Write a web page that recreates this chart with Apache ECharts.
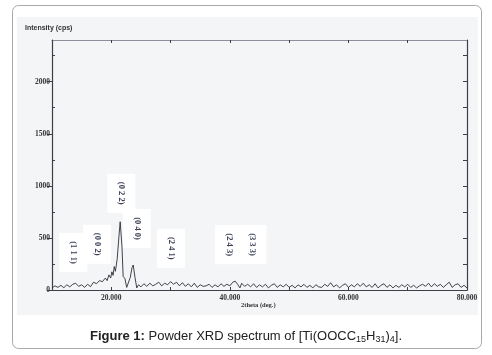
<!DOCTYPE html>
<html>
<head>
<meta charset="utf-8">
<script src="https://cdn.jsdelivr.net/npm/echarts@6/dist/echarts.min.js"></script>
<style>
  html, body { margin: 0; padding: 0; background: #fff; }
  #xrdChart { width: 492px; height: 355px; }
</style>
</head>
<body>
<div id="xrdChart"></div>
<script>
// 2theta (deg.) and intensity (cps)
var twoTheta = [
  10.0, 10.5, 11.0, 11.5, 12.0, 12.5, 13.0, 13.5, 14.0, 14.5, 15.0, 15.5, 16.0, 16.5, 17.0, 17.5,
  18.0, 18.5, 19.0, 19.3, 19.6, 19.9, 20.1, 20.3, 20.5, 20.7, 21.0, 21.3, 21.5, 21.8, 22.0, 22.3,
  22.6, 22.9, 23.2, 23.5, 23.7, 24.0, 24.3, 24.6, 25.0, 25.5, 26.0, 26.5, 27.0, 27.5, 28.0, 28.5,
  29.0, 29.5, 30.0, 30.5, 31.0, 31.5, 32.0, 32.5, 33.0, 33.5, 34.0, 34.5, 35.0, 35.5, 36.0, 36.5,
  37.0, 37.5, 38.0, 38.5, 39.0, 39.5, 40.0, 40.5, 40.9, 41.3, 41.7, 42.0, 42.5, 43.0, 43.5, 44.0,
  44.5, 45.0, 45.5, 46.0, 46.5, 47.0, 47.5, 48.0, 48.5, 49.0, 49.5, 50.0, 50.5, 51.0, 51.5, 52.0,
  52.5, 53.0, 53.5, 54.0, 54.5, 55.0, 55.5, 56.0, 56.5, 57.0, 57.5, 58.0, 58.5, 59.0, 59.5, 60.0,
  60.5, 61.0, 61.5, 62.0, 62.5, 63.0, 63.5, 64.0, 64.5, 65.0, 65.5, 66.0, 66.5, 67.0, 67.5, 68.0,
  68.5, 69.0, 69.5, 70.0, 70.5, 71.0, 71.5, 72.0, 72.5, 73.0, 73.5, 74.0, 74.5, 75.0, 75.5, 76.0,
  76.5, 77.0, 77.5, 78.0, 78.5, 79.0, 79.5, 80.0
];
var intensity = [
  20, 40, 25, 45, 22, 50, 30, 55, 65, 35, 50, 25, 55, 32, 75, 60,
  90, 80, 115, 90, 145, 115, 175, 140, 225, 180, 300, 520, 655, 420, 130, 110,
  25, 40, 120, 215, 240, 120, 20, 50, 30, 60, 35, 65, 40, 55, 75, 40,
  65, 50, 80, 55, 75, 40, 70, 35, 60, 30, 65, 25, 50, 35, 40, 55,
  25, 50, 30, 60, 35, 55, 40, 75, 85, 55, 20, 65, 35, 55, 30, 60,
  25, 50, 30, 55, 20, 45, 60, 25, 50, 30, 55, 25, 45, 20, 50, 30,
  55, 25, 45, 20, 50, 30, 25, 55, 35, 70, 30, 50, 20, 45, 60, 25,
  50, 30, 60, 35, 65, 30, 50, 25, 60, 20, 45, 60, 25, 50, 20, 45,
  25, 50, 30, 55, 25, 45, 20, 40, 55, 35, 65, 30, 60, 35, 55, 25,
  50, 75, 25, 50, 60, 25, 45, 20
];

// Miller index labels and where their boxes sit (2theta, intensity)
var hklLabels = ['(1 1 1)', '(0 0 2)', '(0 2 2)', '(0 4 0)', '(2 4 1)', '(2 4 3)', '(3 3 3)'];
var hklX = [13.6, 17.6, 21.7, 24.3, 30.1, 39.85, 43.8];
var hklY = [360, 440, 930, 590, 400, 435, 437];

var yTicks = [0, 500, 1000, 1500, 2000];
var yMinorTicks = [250, 750, 1250, 1750, 2250];
var xLabelValues = [20, 40, 60, 80];

var points = twoTheta.map(function (t, i) { return [t, intensity[i]]; });
var boxes = hklLabels.map(function (s, i) { return [hklX[i], hklY[i], s]; });

var serif = '"Liberation Serif", "DejaVu Serif", serif';
var axisColor = '#3a3f4a';

var myChart = echarts.init(document.getElementById('xrdChart'));
myChart.setOption({
    backgroundColor: '#fff',
    animation: false,
    graphic: [
        { type: 'rect', z: -10, shape: { x: 12.5, y: 5.5, width: 469, height: 343, r: 6 },
          style: { fill: '#fff', stroke: '#a9a9a9', lineWidth: 1 } },
        { type: 'rect', z: -9, shape: { x: 17, y: 17, width: 461, height: 298 },
          style: { fill: '#f4f5f7' } },
        { type: 'text', left: 25, top: 25,
          style: { text: 'Intensity (cps)', font: 'bold 7px "Liberation Sans", Arial, sans-serif', fill: '#333' } },
        { type: 'text', left: 241, top: 302,
          style: { text: '2theta (deg.)', font: 'bold 6.5px ' + serif, fill: '#333' } }
    ],
    title: {
        left: 'center',
        top: 323,
        text: '{b|Figure 1:} Powder XRD spectrum of [Ti(OOCC{s|15}H{s|31}){s|4}].',
        textStyle: {
            fontFamily: '"Liberation Sans", Arial, sans-serif',
            fontSize: 13,
            fontWeight: 'normal',
            color: '#222',
            lineHeight: 16,
            rich: {
                b: { fontWeight: 'bold', fontSize: 13, fontFamily: '"Liberation Sans", Arial, sans-serif', color: '#222' },
                s: { fontSize: 9, lineHeight: 9, verticalAlign: 'bottom', fontFamily: '"Liberation Sans", Arial, sans-serif', color: '#222' }
            }
        }
    },
    grid: { left: 52, right: 25, top: 40, bottom: 65 },
    xAxis: [
        {
            type: 'value', position: 'bottom', min: 10, max: 80, interval: 10,
            axisLine: { onZero: false, lineStyle: { color: axisColor, width: 1.2 } },
            axisTick: { inside: true, length: 3, lineStyle: { color: axisColor } },
            splitLine: { show: false },
            axisLabel: {
                margin: 4,
                fontFamily: serif, fontSize: 7.5, fontWeight: 'bold', color: '#333',
                customValues: xLabelValues,
                formatter: function (v) { return v.toFixed(3); }
            }
        },
        {
            type: 'value', position: 'top', min: 10, max: 80, interval: 10,
            axisLine: { show: true, onZero: false, lineStyle: { color: '#8a8f99', width: 1.2 } },
            axisTick: { show: true, inside: true, length: 3, lineStyle: { color: axisColor } },
            axisLabel: { show: false },
            splitLine: { show: false }
        }
    ],
    yAxis: [
        {
            type: 'value', position: 'left', min: 0, max: 2400, interval: 500,
            axisLine: { show: true, onZero: false, lineStyle: { color: axisColor, width: 1.2 } },
            axisTick: { show: true, length: 5, customValues: yTicks, lineStyle: { color: axisColor } },
            splitLine: { show: false },
            axisLabel: {
                margin: 2, customValues: yTicks,
                fontFamily: serif, fontSize: 7.5, fontWeight: 'bold', color: '#333',
                formatter: function (v) { return String(v); }
            }
        },
        {
            type: 'value', position: 'left', min: 0, max: 2400, interval: 250,
            axisLine: { show: false },
            axisTick: { show: true, inside: true, length: 3, customValues: yMinorTicks, lineStyle: { color: axisColor } },
            axisLabel: { show: false },
            splitLine: { show: false }
        },
        {
            type: 'value', position: 'right', min: 0, max: 2400, interval: 250,
            axisLine: { show: true, onZero: false, lineStyle: { color: axisColor, width: 1.2 } },
            axisTick: { show: true, inside: true, length: 4, customValues: yTicks.concat(yMinorTicks), lineStyle: { color: axisColor } },
            axisLabel: { show: false },
            splitLine: { show: false }
        }
    ],
    series: [
        {
            name: 'XRD',
            type: 'line',
            data: points,
            showSymbol: false,
            lineStyle: { color: '#2d2f36', width: 0.9 },
            z: 3
        },
        {
            name: 'hkl',
            type: 'custom',
            z: 2,
            data: boxes,
            renderItem: function (params, api) {
                var c = api.coord([api.value(0), api.value(1)]);
                var w = 28, h = 39;
                return {
                    type: 'group',
                    children: [
                        { type: 'rect', shape: { x: c[0] - w / 2, y: c[1] - h / 2, width: w, height: h },
                          style: { fill: '#fff' } },
                        { type: 'text', x: c[0], y: c[1], rotation: -Math.PI / 2,
                          style: { text: api.value(2), align: 'center', verticalAlign: 'middle',
                                   font: 'bold 8.5px ' + serif, fill: '#3a3f55' } }
                    ]
                };
            }
        }
    ]
});
</script>
</body>
</html>
